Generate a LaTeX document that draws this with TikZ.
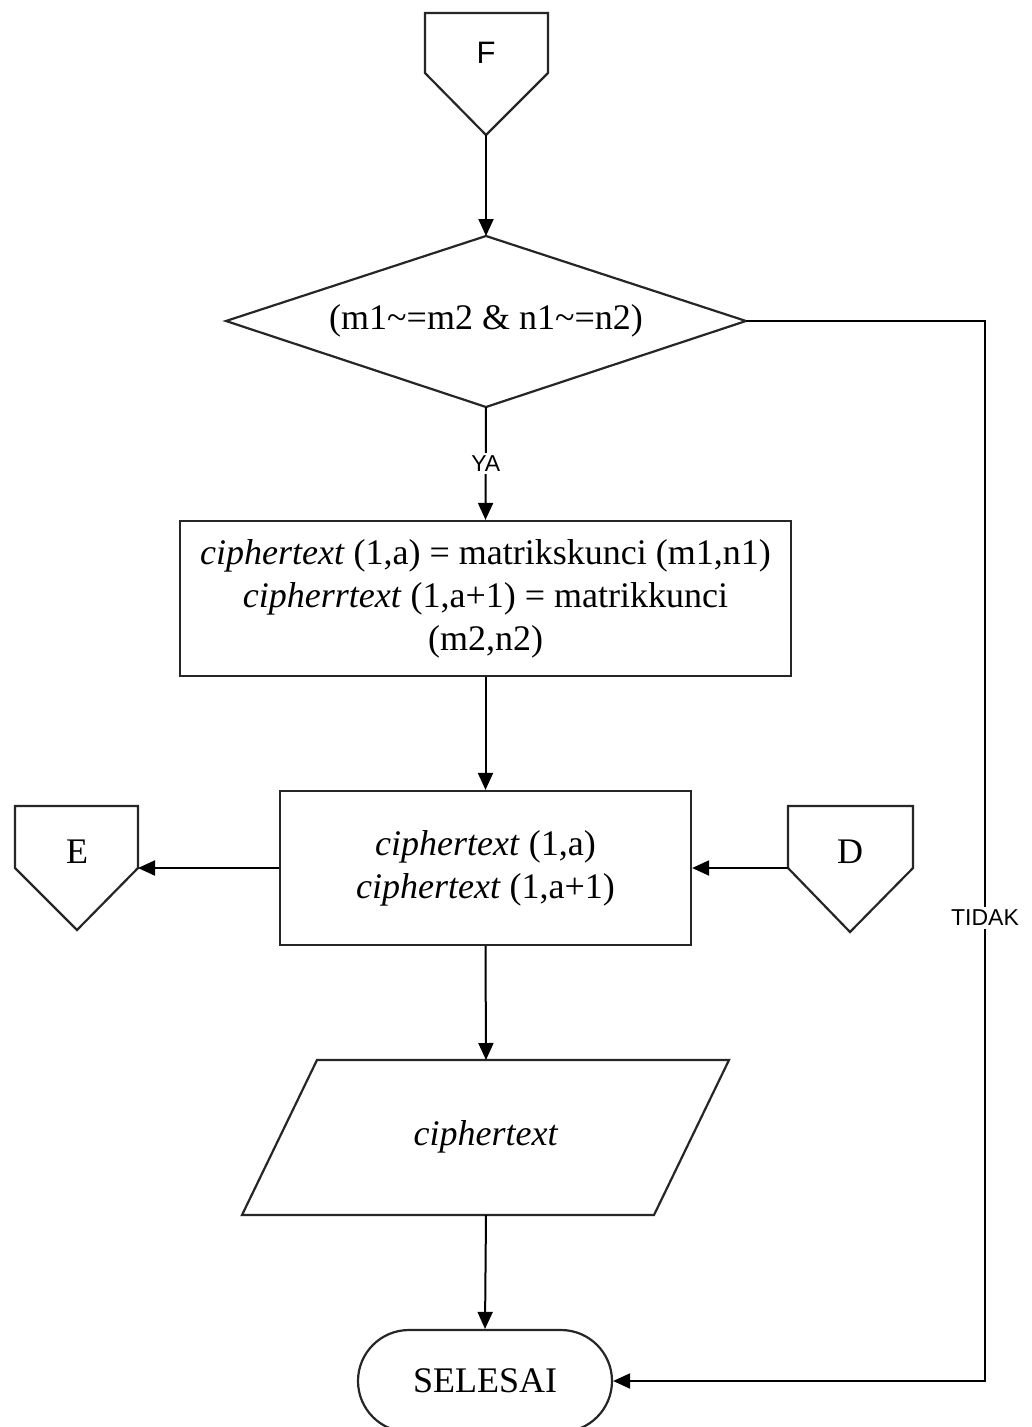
\documentclass[tikz,border=0pt]{standalone}
\usepackage{fontspec}
\setmainfont{Liberation Serif}
\setsansfont{Liberation Sans}
\usetikzlibrary{shapes.misc,arrows.meta}
\begin{document}
\begin{tikzpicture}[x=1pt,y=-1pt,
  shape line/.style={draw=black!85, line width=2.2pt, line join=miter},
  arr/.style={draw=black, line width=2pt, -{Triangle[length=17pt,width=15pt]}},
  txt/.style={font=\fontsize{36}{43}\selectfont, align=center, inner sep=0pt},
  lbl/.style={font=\sffamily\fontsize{23}{26}\selectfont, fill=white, inner sep=3pt},
  procbox/.style={shape line, rectangle, txt},
  termbox/.style={shape line, rounded rectangle, txt, minimum width=254, minimum height=102}
]
\useasboundingbox (0,0) rectangle (1031,1427);
\fill[white] (0,0) rectangle (1031,1427);

% off-page connector F
\draw[shape line] (425,13) -- (548,13) -- (548,73) -- (486,135) -- (425,73) -- cycle;
\node[font=\sffamily\fontsize{31}{34}\selectfont] (F) at (486,53) {F};
\coordinate (Ftip) at (486,135);

% decision
\coordinate (decN) at (486,236);
\coordinate (decS) at (486,407);
\coordinate (decE) at (746,321);
\coordinate (decW) at (226,321);
\draw[shape line] (decN) -- (decE) -- (decS) -- (decW) -- cycle;
\node[txt] (dec) at (486,321) {(m1\textasciitilde=m2 \& n1\textasciitilde=n2)};

% process 1
\node[procbox, minimum width=611, minimum height=155] (box1) at (485.5,598.5)
  {\textit{ciphertext} (1,a) = matrikskunci (m1,n1)\\
   \textit{cipherrtext} (1,a+1) = matrikkunci\\
   (m2,n2)};

% process 2
\node[procbox, minimum width=411, minimum height=154] (box2) at (485.5,868)
  {\textit{ciphertext} (1,a)\\ \textit{ciphertext} (1,a+1)};

% connector E
\draw[shape line] (15,806) -- (138,806) -- (138,868) -- (77,930) -- (15,868) -- cycle;
\node[txt] (E) at (77,852) {E};
\coordinate (Eright) at (138,868);

% connector D
\draw[shape line] (788,806) -- (913,806) -- (913,868) -- (850,932) -- (788,868) -- cycle;
\node[txt] (D) at (850,852) {D};
\coordinate (Dleft) at (788,868);

% output parallelogram
\draw[shape line] (317,1060) -- (729,1060) -- (654,1215) -- (242,1215) -- cycle;
\node[txt] (out) at (486,1137) {\textit{ciphertext}};
\coordinate (outtop) at (486,1060);
\coordinate (outbot) at (486,1215);

% terminal
\node[termbox] (term) at (485,1381) {SELESAI};

% connectors
\draw[arr] (Ftip) -- (decN);
\draw[arr] (decS) -- node[lbl]{YA} (box1.north);
\draw[arr] (box1.south) -- (box2.north);
\draw[arr] (box2.west) -- (Eright);
\draw[arr] (Dleft) -- (box2.east);
\draw[arr] (box2.south) -- (outtop);
\draw[arr] (outbot) -- (term.north);
\coordinate (c1) at (985,321);
\coordinate (c2) at (985,1381);
\draw[arr] (decE) -- (c1) -- node[lbl,pos=0.563]{TIDAK} (c2) -- (term.east);
\end{tikzpicture}
\end{document}
